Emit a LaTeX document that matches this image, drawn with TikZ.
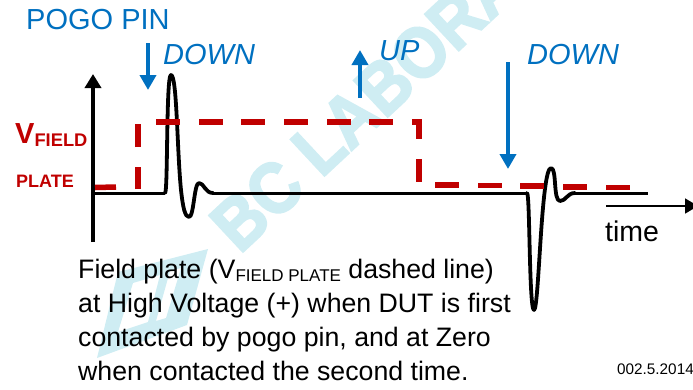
\documentclass[tikz,border=0pt]{standalone}
\usepackage{fontspec}
\setmainfont{Liberation Sans}
\newfontfamily\wmfont[UprightFont={* Bold},FakeBold=3]{Liberation Sans}
\usetikzlibrary{arrows.meta}
\definecolor{pinblue}{HTML}{0070C0}
\definecolor{platered}{HTML}{C00000}
\definecolor{wmark}{HTML}{CFEDF3}
\newcommand{\fsz}[1]{\fontsize{#1}{#1}\selectfont}
\tikzset{
  sig/.style={draw=black,line width=3pt,line join=round},
  pulse/.style={draw=black,line width=3.8pt,line join=round,line cap=round},
  axisline/.style={draw=black,line width=4pt,-{Triangle[length=14pt,width=16pt]}},
  timeline/.style={draw=black,line width=1.8pt,-{Triangle[length=13pt,width=15pt]}},
  pinarrow/.style={draw=pinblue,line width=4pt,-{Triangle[length=15pt,width=16pt]}},
  field/.style={draw=platered,line width=5.5pt},
  bluelabel/.style={text=pinblue,inner sep=0pt,font=\fsz{29}},
  redlabel/.style={text=platered,inner sep=0pt,font=\bfseries},
  bodytext/.style={inner sep=0pt,anchor=base west,font=\fsz{26.7}},
}
\begin{document}
\begin{tikzpicture}[x=1pt,y=-1pt]
\useasboundingbox (0,0) rectangle (693,389);
% watermark
\node[rotate=43,text=wmark,inner sep=0pt,font=\fsz{72}\wmfont] (mark) at (365,104) {\scalebox{.9}[1]{BC LABORA}};
\fill[wmark,even odd rule] (118,272) -- (208,249) -- (187,325) -- (97,358) -- cycle
  (133,283) -- (160,275) -- (148,322) -- (118,332) -- cycle
  (170,271) -- (181,268) -- (166,318) -- (156,321) -- cycle;
% axes
\coordinate (axb) at (93,242); \coordinate (axt) at (93,74);
\draw[axisline] (axb) -- (axt);
\coordinate (ts) at (606,206); \coordinate (te) at (698,206);
\draw[timeline] (ts) -- (te);
% signal
\draw[sig] (93,193) -- (165,193);
\draw[sig] (213,193) -- (527,193);
\draw[sig] (575,193) -- (648,193);
\draw[pulse] (165,193) .. controls (168,193) and (166,75) .. (171,75)
  .. controls (177,75) and (177,150) .. (181,190)
  .. controls (183,208) and (185,217) .. (189,217)
  .. controls (194,217) and (194,183) .. (199,183)
  .. controls (204,183) and (205,193) .. (213,193);
\draw[pulse] (527,193) .. controls (530,193) and (529,310) .. (534,310)
  .. controls (539,310) and (541,168) .. (551,168)
  .. controls (557,168) and (553,201) .. (560,201)
  .. controls (566,201) and (567,193) .. (575,193);
% field plate
\draw[field] (95,187.5) -- (116,187);
\draw[field] (138,189) -- (138,167) (138,147) -- (138,124);
\foreach \a in {156,199,241,284,327,369}
  \draw[field] (\a,122) -- ++(24,0);
\draw[field] (412,122) -- (419,122) -- (419,139);
\draw[field] (419,159) -- (419,182);
\draw[field] (435,185) -- (459,185);
\draw[field] (478,185.5) -- (502,185.5);
\draw[field] (520,186) -- (544,186);
\draw[field] (563,187) -- (587,187);
\draw[field] (606,187.5) -- (630,187.5);
% pin arrows
\coordinate (a1s) at (148,43); \coordinate (a1e) at (148,90);
\coordinate (a2s) at (360,98); \coordinate (a2e) at (360,50);
\coordinate (a3s) at (508,62); \coordinate (a3e) at (508,169);
\draw[pinarrow] (a1s) -- (a1e);
\draw[pinarrow] (a2s) -- (a2e);
\draw[pinarrow] (a3s) -- (a3e);
% labels
\node[bluelabel,anchor=base west] (pogo) at (26,29) {POGO PIN};
\node[bluelabel,anchor=base west] (d1) at (163,64) {\itshape DOWN};
\node[bluelabel,anchor=base west] (up) at (379,60) {\itshape UP};
\node[bluelabel,anchor=base west] (d2) at (527,64) {\itshape DOWN};
\node[redlabel,anchor=base west] (vf) at (15,143) {\fsz{29}V\raisebox{-3.5pt}{\fsz{18.3}FIELD}};
\node[redlabel,anchor=base west,font=\fsz{18}\bfseries] (pl) at (16,187) {PLATE};
\node[inner sep=0pt,anchor=base west,font=\fsz{28.5}] (tm) at (605,241) {time};
\node[bodytext] (l1) at (78,278) {Field plate (V\raisebox{-3pt}{\fsz{17}FIELD PLATE} dashed line)};
\node[bodytext] (l2) at (78,312) {at High Voltage (+) when DUT is first};
\node[bodytext] (l3) at (78,346) {contacted by pogo pin, and at Zero};
\node[bodytext] (l4) at (78,380) {when contacted the second time.};
\node[inner sep=0pt,anchor=base west,font=\fsz{15.3}] (date) at (617,374) {002.5.2014};
\end{tikzpicture}
\end{document}
